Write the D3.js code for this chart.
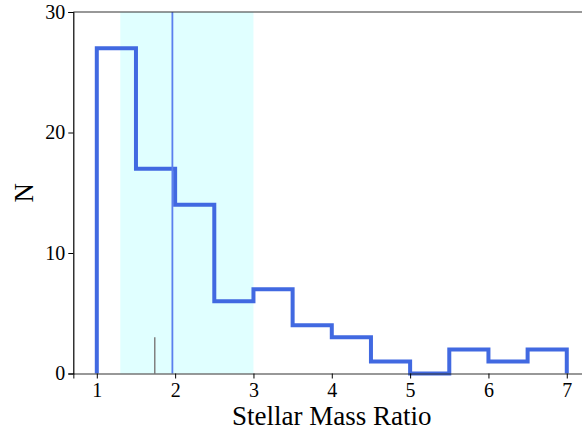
<!DOCTYPE html>
<html>
<head>
<meta charset="utf-8">
<script src="https://cdn.jsdelivr.net/npm/d3@7"></script>
<style>
  html, body { margin: 0; padding: 0; background: #fff; }
  svg { display: block; }
</style>
</head>
<body>
<script>
// Histogram of stellar mass ratios (bin edges and counts)
const binEdges = [1, 1.5, 2, 2.5, 3, 3.5, 4, 4.5, 5, 5.5, 6, 6.5, 7];
const counts = [27, 17, 14, 6, 7, 4, 3, 1, 0, 2, 1, 2];
const xTicks = [1, 2, 3, 4, 5, 6, 7];
const yTicks = [0, 10, 20, 30];
// Shaded range, median line and a short marker
const bandRange = [1.3, 3.0];
const medianValue = 1.965;
const markerValue = 1.74;
const markerHeight = 3;

const FONT = "'Times New Roman', Tinos, 'Liberation Serif', 'DejaVu Serif', 'Noto Serif', FreeSerif, serif";

const W = 582, H = 432;
const svg = d3.select("body").append("svg").attr("width", W).attr("height", H);

const plotLeft = 73.3, plotTop = 12, plotBottom = 373.5;
const x = d3.scaleLinear().domain([0.7, 7.3]).range([plotLeft, plotLeft + 6.6 * 78.33]);
const y = d3.scaleLinear().domain([0, 30]).range([plotBottom, plotTop]);

// shaded band
svg.append("rect")
  .attr("x", x(bandRange[0])).attr("y", y(30))
  .attr("width", x(bandRange[1]) - x(bandRange[0]))
  .attr("height", y(0) - y(30))
  .attr("fill", "#e0ffff");

// step outline of the histogram
const pts = [[binEdges[0], 0]];
counts.forEach((c, i) => { pts.push([binEdges[i], c]); pts.push([binEdges[i + 1], c]); });
pts.push([binEdges[binEdges.length - 1], 0]);
svg.append("path")
  .attr("d", d3.line().x(d => x(d[0])).y(d => y(d[1]))(pts))
  .attr("fill", "none")
  .attr("stroke", "#4169e1")
  .attr("stroke-width", 4)
  .attr("stroke-linejoin", "miter");

// median line
svg.append("line")
  .attr("x1", x(medianValue)).attr("x2", x(medianValue))
  .attr("y1", y(30)).attr("y2", y(0))
  .attr("stroke", "#5b7fee").attr("stroke-width", 1.8);

// short marker
svg.append("line")
  .attr("x1", x(markerValue)).attr("x2", x(markerValue))
  .attr("y1", y(0)).attr("y2", y(markerHeight))
  .attr("stroke", "#808080").attr("stroke-width", 1.5);

// axes
const xAxis = d3.axisBottom(x).tickValues(xTicks).tickFormat(d3.format("d")).tickSize(5).tickPadding(4);
const gx = svg.append("g").attr("transform", `translate(0,${plotBottom})`).call(xAxis)
  .attr("font-family", FONT).attr("font-size", 20);
gx.select(".domain").attr("stroke", "#333").attr("stroke-width", 1.2);
gx.selectAll(".tick line").attr("stroke", "#000");

const yAxis = d3.axisLeft(y).tickValues(yTicks).tickSize(5).tickPadding(3);
const gy = svg.append("g").attr("transform", `translate(${plotLeft},0)`).call(yAxis)
  .attr("font-family", FONT).attr("font-size", 20);
gy.select(".domain").attr("stroke", "#000").attr("stroke-width", 1.2);
gy.selectAll(".tick line").attr("stroke", "#000");

// top spine
svg.append("line")
  .attr("x1", plotLeft).attr("x2", W).attr("y1", plotTop).attr("y2", plotTop)
  .attr("stroke", "#333").attr("stroke-width", 1.2);

// labels
svg.append("text")
  .attr("x", x(4)).attr("y", 425)
  .attr("text-anchor", "middle")
  .attr("font-family", FONT)
  .attr("font-size", 27)
  .text("Stellar Mass Ratio");

svg.append("text")
  .attr("transform", `translate(33,${(plotTop + plotBottom) / 2}) rotate(-90)`)
  .attr("text-anchor", "middle")
  .attr("font-family", FONT)
  .attr("font-size", 27)
  .text("N");
</script>
</body>
</html>
